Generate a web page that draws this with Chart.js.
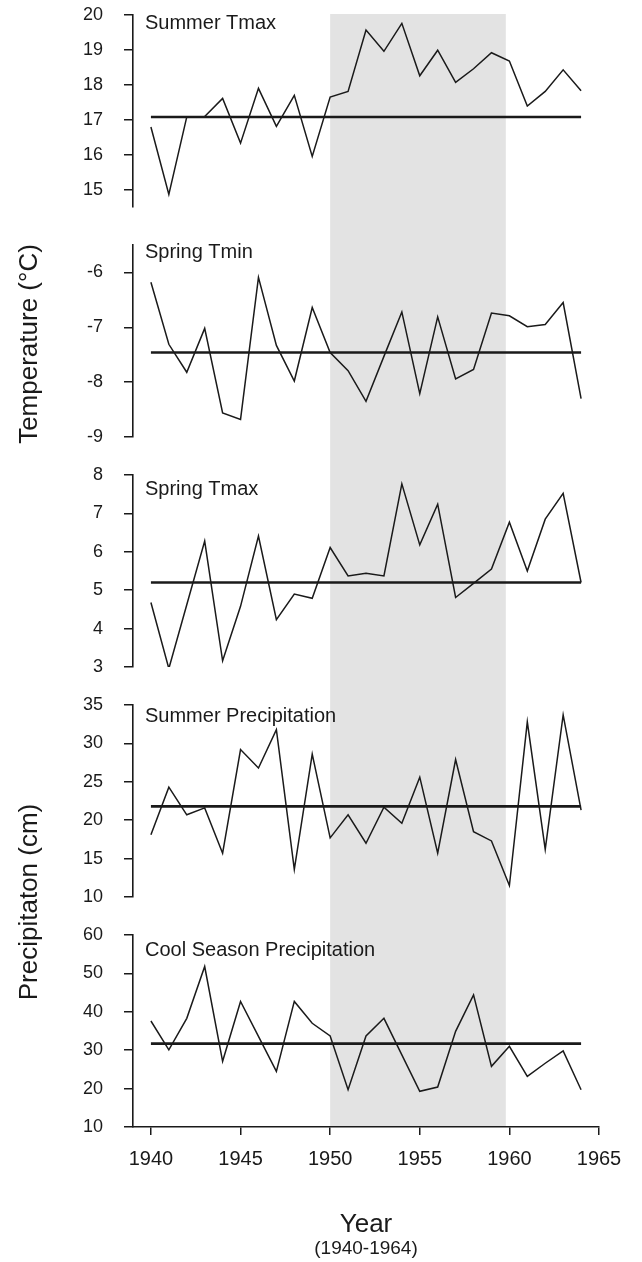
<!DOCTYPE html>
<html>
<head>
<meta charset="utf-8">
<script src="https://cdn.jsdelivr.net/npm/chart.js@4/dist/chart.umd.min.js"></script>
<style>
  html, body { margin: 0; padding: 0; background: #ffffff; }
  #wrap { position: relative; width: 642px; height: 1262px; }
</style>
</head>
<body>
<div id="wrap"><canvas id="climate"></canvas></div>
<script>
// ---- data -------------------------------------------------------------
const years = [1940, 1941, 1942, 1943, 1944, 1945, 1946, 1947, 1948, 1949,
               1950, 1951, 1952, 1953, 1954, 1955, 1956, 1957, 1958, 1959,
               1960, 1961, 1962, 1963, 1964];

const summerTmax = [16.79, 14.86, 17.08, 17.09, 17.61, 16.33, 17.90, 16.81, 17.70, 15.95,
                    17.65, 17.81, 19.57, 18.96, 19.76, 18.26, 18.99, 18.07, 18.46, 18.92,
                    18.68, 17.39, 17.81, 18.43, 17.83];
const springTmin = [-6.18, -7.31, -7.82, -7.02, -8.56, -8.68, -6.09, -7.33, -7.98, -6.64,
                    -7.46, -7.79, -8.35, -7.53, -6.72, -8.21, -6.81, -7.94, -7.77, -6.74,
                    -6.79, -6.99, -6.95, -6.55, -8.30];
const springTmax = [4.68, 2.96, 4.62, 6.28, 3.16, 4.58, 6.41, 4.23, 4.90, 4.79,
                    6.11, 5.37, 5.44, 5.37, 7.77, 6.18, 7.24, 4.81, 5.18, 5.55,
                    6.77, 5.50, 6.85, 7.52, 5.20];
const summerPrecip = [18.1, 24.3, 20.7, 21.6, 15.7, 29.2, 26.8, 31.8, 13.6, 28.6,
                      17.7, 20.7, 17.0, 21.7, 19.6, 25.6, 15.7, 27.9, 18.5, 17.3,
                      11.5, 32.8, 16.2, 33.7, 21.3];
const coolPrecip = [37.6, 30.1, 38.3, 51.8, 27.1, 42.7, 33.6, 24.5, 42.7, 37.0,
                    33.7, 19.7, 33.7, 38.3, 28.8, 19.3, 20.4, 34.9, 44.4, 25.8,
                    31.0, 23.2, 26.6, 29.8, 19.7];

// long-term reference level drawn across each panel
const summerTmaxMean = 17.08;
const springTminMean = -7.46;
const springTmaxMean = 5.20;
const summerPrecipMean = 21.8;
const coolPrecipMean = 31.7;

// tick labels
const yearTicks = [1940, 1945, 1950, 1955, 1960, 1965];
const summerTmaxTicks = [15, 16, 17, 18, 19, 20];
const springTminTicks = [-9, -8, -7, -6];
const springTmaxTicks = [3, 4, 5, 6, 7, 8];
const summerPrecipTicks = [10, 15, 20, 25, 30, 35];
const coolPrecipTicks = [10, 20, 30, 40, 50, 60];

// highlighted period
const periodStart = 1950;
const periodEnd = 1959.8;

// ---- chart setup ------------------------------------------------------
const FONT = "'Liberation Sans', Arial, Helvetica, sans-serif";
const INK = '#1a1a1a';

// panels listed top to bottom
const panels = [
  { id: 'p0', label: 'Summer Tmax',               values: summerTmax,   mean: summerTmaxMean,   ticks: summerTmaxTicks,   min: 14.5, max: 20,   labelDy: 14 },
  { id: 'p1', label: 'Spring Tmin',               values: springTmin,   mean: springTminMean,   ticks: springTminTicks,   min: -9,   max: -5.5, labelDy: 13 },
  { id: 'p2', label: 'Spring Tmax',               values: springTmax,   mean: springTmaxMean,   ticks: springTmaxTicks,   min: 3,    max: 8,    labelDy: 20 },
  { id: 'p3', label: 'Summer Precipitation',      values: summerPrecip, mean: summerPrecipMean, ticks: summerPrecipTicks, min: 10,   max: 35,   labelDy: 17 },
  { id: 'p4', label: 'Cool Season Precipitation', values: coolPrecip,   mean: coolPrecipMean,   ticks: coolPrecipTicks,   min: 10,   max: 60,   labelDy: 21 }
];

const PANEL_WEIGHT = 192;
const GAP_WEIGHT = 38;

const datasets = [];
panels.forEach(p => {
  datasets.push({
    data: years.map((y, i) => ({ x: y, y: p.values[i] })),
    yAxisID: p.id,
    borderColor: INK,
    borderWidth: 1.5,
    pointRadius: 0,
    tension: 0,
    fill: false
  });
  datasets.push({
    data: [{ x: years[0], y: p.mean }, { x: years[years.length - 1], y: p.mean }],
    yAxisID: p.id,
    borderColor: INK,
    borderWidth: 2.6,
    pointRadius: 0,
    fill: false
  });
});

const scales = {
  x: {
    type: 'linear',
    position: 'bottom',
    min: 1939,
    max: 1965,
    afterBuildTicks: s => { s.ticks = yearTicks.map(v => ({ value: v })); },
    afterFit: s => { s.height = 135; },
    grid: { drawOnChartArea: false, drawTicks: true, tickLength: 8, color: INK, lineWidth: 1.5 },
    border: { display: true, color: INK, width: 1.6 },
    ticks: {
      color: INK, padding: 12, maxRotation: 0, autoSkip: false,
      font: { family: FONT, size: 20 },
      callback: v => String(v)
    }
  }
};

// stacked left axes are laid out from the last one added upwards,
// so the panels (and spacers between them) are registered bottom first
const stackEntries = [];
panels.forEach((p, i) => {
  stackEntries.push([p.id, {
    type: 'linear',
    position: 'left',
    stack: 'panels',
    stackWeight: PANEL_WEIGHT,
    min: p.min,
    max: p.max,
    afterBuildTicks: s => { s.ticks = p.ticks.map(v => ({ value: v })); },
    afterFit: s => {
      s.width = 133;
      // end labels may overhang the panel; don't let them push the plot area
      s.paddingTop = 0;
      s.paddingBottom = 0;
    },
    grid: { drawOnChartArea: false, drawTicks: true, tickLength: 9, color: INK, lineWidth: 1.5 },
    border: { display: true, color: INK, width: 1.6 },
    ticks: { color: INK, padding: 21, autoSkip: false, font: { family: FONT, size: 18 }, callback: v => String(v) }
  }]);
  if (i < panels.length - 1) {
    stackEntries.push(['gap' + i, {
      type: 'linear',
      position: 'left',
      stack: 'panels',
      stackWeight: GAP_WEIGHT,
      display: false
    }]);
  }
});
stackEntries.reverse().forEach(([key, cfg]) => { scales[key] = cfg; });

const decor = {
  id: 'decor',
  beforeDraw(chart) {
    const { ctx, chartArea, scales } = chart;
    const x0 = scales.x.getPixelForValue(periodStart);
    const x1 = scales.x.getPixelForValue(periodEnd);
    const top = scales.p0.top - 1;
    ctx.save();
    ctx.fillStyle = '#e3e3e3';
    ctx.fillRect(x0, top, x1 - x0, chartArea.bottom - top);
    ctx.restore();
  },
  afterDraw(chart) {
    const { ctx, scales } = chart;
    ctx.save();
    ctx.fillStyle = INK;
    ctx.textBaseline = 'alphabetic';

    // panel names
    ctx.textAlign = 'left';
    ctx.font = '20px ' + FONT;
    panels.forEach(p => {
      ctx.fillText(p.label, 145, scales[p.id].top + p.labelDy);
    });

    // vertical axis titles
    ctx.textAlign = 'center';
    ctx.font = '26px ' + FONT;
    const vTitle = (text, cy) => {
      ctx.save();
      ctx.translate(37, cy);
      ctx.rotate(-Math.PI / 2);
      ctx.fillText(text, 0, 0);
      ctx.restore();
    };
    vTitle('Temperature (°C)', (scales.p0.top + scales.p2.bottom) / 2 + 3);
    vTitle('Precipitaton (cm)', (scales.p3.top + scales.p4.bottom) / 2 - 14);

    // horizontal axis title
    const cx = (chart.chartArea.left + chart.chartArea.right) / 2;
    ctx.font = '26px ' + FONT;
    ctx.fillText('Year', cx, 1232);
    ctx.font = '19px ' + FONT;
    ctx.fillText('(1940-1964)', cx, 1254);
    ctx.restore();
  }
};

new Chart(document.getElementById('climate'), {
  type: 'line',
  data: { datasets },
  options: {
    responsive: true,
    maintainAspectRatio: false,
    animation: false,
    events: [],
    layout: { padding: { top: 15, right: 43, bottom: 0, left: 0 } },
    plugins: { legend: { display: false }, tooltip: { enabled: false } },
    scales
  },
  plugins: [decor]
});
</script>
</body>
</html>
